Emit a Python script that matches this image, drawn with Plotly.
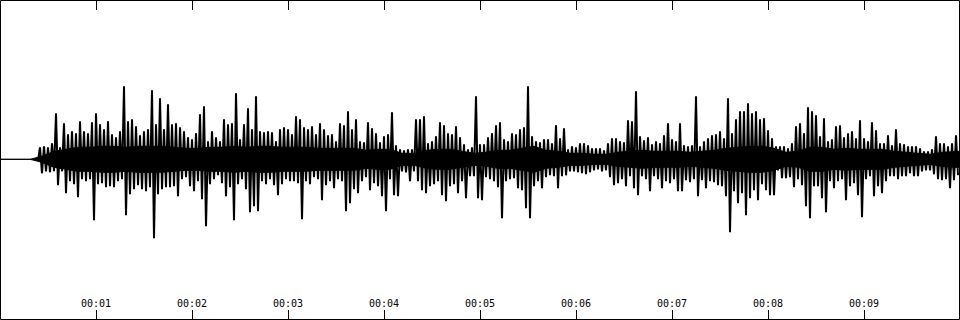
import plotly.graph_objects as go

# Waveform peak envelope, one (max, min) pair per 1/24 s bin (amplitude units, full scale +-160)
peak_hi = [0, 0, 0, 0, 0, 0, 0, 0, 0, 1,
           12, 13, 12, 16, 46, 12, 36, 25, 28, 26, 38, 28, 26, 37, 46, 35, 30, 38, 25, 22, 28, 73, 38, 40, 33, 24, 28, 30, 69, 35,
           61, 30, 55, 35, 36, 32, 28, 22, 20, 26, 45, 53, 18, 28, 22, 18, 40, 35, 36, 66,
           20, 35, 51, 30, 63, 28, 27, 28, 27, 18, 30, 32, 30, 25, 43, 40, 32, 30, 33, 25,
           36, 30, 24, 25, 18, 36, 34, 48, 30, 40, 18, 17, 37, 31, 26, 17, 23, 25, 47, 14,
           10, 9, 10, 10, 40, 40, 43, 16, 18, 23, 37, 34, 26, 25, 33, 22, 15, 10, 12, 63,
           15, 15, 22, 26, 34, 37, 20, 18, 26, 25, 30, 32, 73, 23, 18, 17, 20, 20, 16, 34,
           21, 31, 10, 13, 12, 16, 16, 14, 11, 11, 11, 9, 16, 21, 21, 18, 17, 39, 38, 68,
           23, 19, 22, 15, 18, 16, 24, 36, 20, 18, 36, 14, 13, 14, 63, 13, 18, 21, 24, 25,
           28, 21, 61, 26, 40, 48, 48, 56, 46, 48, 40, 41, 29, 21, 13, 13, 13, 11, 16, 33,
           36, 26, 52, 48, 44, 23, 41, 18, 20, 33, 34, 22, 26, 28, 21, 39, 21, 18, 37, 29,
           16, 16, 24, 14, 30, 16, 15, 13, 13, 13, 11, 8, 8, 10, 23, 16, 16, 13, 16, 24]

peak_lo = [0, 0, 0, 0, 0, 0, 0, 0, 0, -1,
           -14, -12, -13, -12, -26, -12, -34, -22, -25, -38, -20, -22, -20, -61, -25, -24, -28, -27, -28, -22,
           -20, -56, -35, -30, -26, -30, -32, -28, -79, -35,
           -30, -28, -28, -27, -37, -20, -18, -27, -32, -22, -40, -67, -25, -20, -16, -24, -37, -28, -61, -25,
           -20, -30, -53, -47, -52, -22, -25, -20, -26, -36, -25, -20, -22, -22, -24, -60, -22, -25, -18, -20,
           -41, -26, -22, -29, -20, -22, -52, -44, -30, -34, -22, -18, -31, -24, -27, -37, -52, -20, -36, -37,
           -12, -13, -22, -12, -22, -31, -34, -27, -25, -22, -36, -42, -27, -25, -34, -22, -39, -17, -17, -39,
           -41, -18, -20, -22, -28, -59, -22, -20, -19, -29, -31, -49, -59, -27, -22, -29, -18, -16, -17, -29,
           -17, -16, -12, -12, -13, -14, -15, -13, -11, -10, -12, -11, -18, -26, -24, -20, -27, -17, -29, -36,
           -17, -20, -32, -17, -20, -29, -22, -24, -20, -32, -32, -21, -23, -20, -37, -21, -29, -22, -23, -26,
           -27, -37, -73, -32, -44, -34, -56, -39, -31, -41, -25, -31, -36, -36, -11, -19, -19, -18, -28, -20,
           -26, -47, -59, -27, -27, -39, -53, -22, -29, -22, -20, -41, -27, -24, -36, -58, -20, -17, -37, -27,
           -34, -22, -17, -17, -20, -17, -17, -14, -17, -17, -12, -11, -11, -15, -20, -21, -20, -29, -21, -16]

# Solid core half-height, one value per 1/8 s
core = [0, 0, 0, 3, 8, 10, 12, 12, 13, 13, 12, 13, 13, 13, 12, 11, 11, 12, 12, 13,
        12, 13, 13, 12, 12, 12, 11, 11, 11, 11, 9, 10, 10, 6, 6, 9, 10, 10, 8, 6,
        7, 9, 9, 11, 13, 9, 8, 6, 6, 5, 5, 7, 8, 9, 8, 8, 8, 7, 8, 9,
        11, 12, 13, 13, 11, 7, 8, 12, 12, 10, 11, 10, 10, 10, 8, 7, 6, 5, 7, 8]

peak_bins_per_second = 24
core_bins_per_second = 8
duration = 10
tick_seconds = [1, 2, 3, 4, 5, 6, 7, 8, 9]
tick_labels = ["00:01", "00:02", "00:03", "00:04", "00:05", "00:06", "00:07", "00:08", "00:09"]

# Peak trace: zig-zag through (max, min) of every bin (silent bins left to the baseline)
wx, wy = [], []
for i, (hi, lo) in enumerate(zip(peak_hi, peak_lo)):
    if hi == 0 and lo == 0:
        continue
    t = i / peak_bins_per_second
    wx += [t, t + 0.5 / peak_bins_per_second]
    wy += [hi, lo]

# Core band polygon (its outline also draws the silent baseline)
ct = [(i + 0.5) / core_bins_per_second for i in range(len(core))]
bx = [0] + ct + [duration] + [duration] + ct[::-1] + [0]
by = [core[0]] + core + [core[-1]] + [-core[-1]] + [-c for c in core[::-1]] + [-core[0]]

fig = go.Figure()
fig.add_trace(go.Scatter(x=bx, y=by, mode="lines", fill="toself", fillcolor="black",
                         line=dict(color="black", width=1), hoverinfo="skip", showlegend=False))
fig.add_trace(go.Scatter(x=wx, y=wy, mode="lines", line=dict(color="black", width=2, simplify=False),
                         hoverinfo="skip", showlegend=False))

fig.update_layout(
    template="none",
    width=960, height=320,
    margin=dict(l=0, r=0, t=0, b=0),
    paper_bgcolor="white", plot_bgcolor="white",
    font=dict(family="DejaVu Sans Mono", size=10, color="black"),
    xaxis=dict(range=[0, duration], showgrid=False, zeroline=False, showline=False,
               tickmode="array", tickvals=tick_seconds, ticktext=tick_labels,
               ticks="inside", ticklen=10, tickwidth=1, tickcolor="black",
               mirror="ticks", ticklabelposition="inside",
               tickfont=dict(family="DejaVu Sans Mono", size=10, color="black")),
    yaxis=dict(range=[-160.7, 159.3], visible=False),
    shapes=[dict(type="rect", xref="paper", yref="paper",
                 x0=0.5 / 960, x1=959.5 / 960, y0=0.5 / 320, y1=319.5 / 320,
                 line=dict(color="black", width=1), fillcolor="rgba(0,0,0,0)")],
)

fig.write_html("out.html")
